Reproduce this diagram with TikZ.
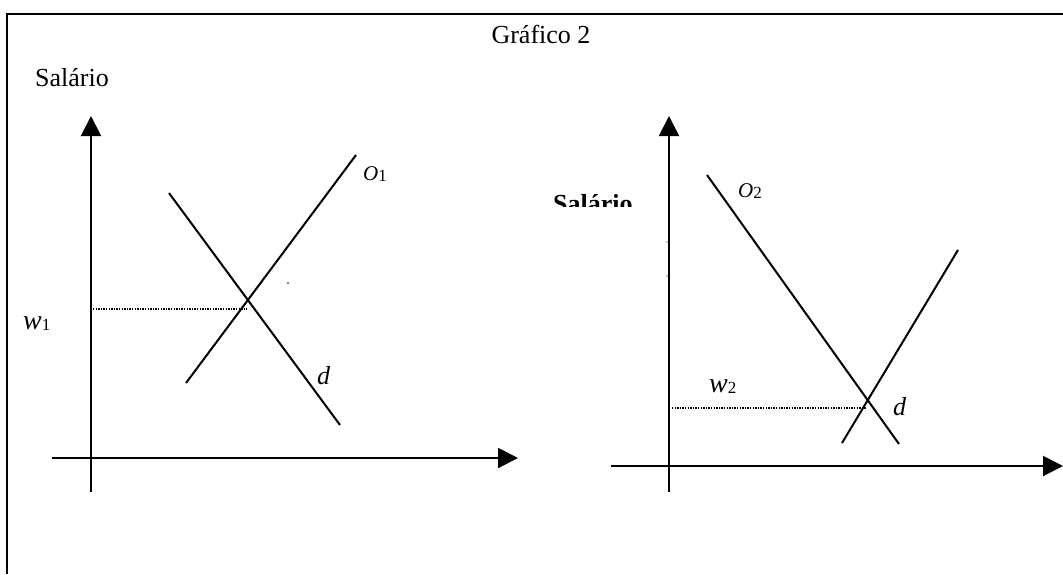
\documentclass[tikz,border=0pt]{standalone}
\usepackage{fontspec}
\setmainfont{Liberation Serif}
\usetikzlibrary{arrows.meta}
\newcommand{\bigtxt}{\fontsize{26}{30}\selectfont}
\newcommand{\vsym}[2]{{\fontsize{28}{30}\selectfont\textit{#1}}\raisebox{-0.12em}{\fontsize{17}{20}\selectfont #2}}
\newcommand{\osym}[2]{{\fontsize{21}{22}\selectfont\textit{#1}}\raisebox{-0.1em}{\fontsize{17}{20}\selectfont #2}}
\tikzset{
  axis/.style={line width=2pt,-{Triangle[length=20pt,width=20pt]}},
  curve/.style={line width=2pt},
  guide/.style={line width=1.3pt,dash pattern=on 1.3pt off 1.3pt},
  lbl/.style={inner sep=0pt,anchor=base west},
  frame/.style={line width=2.2pt}
}
\begin{document}
\begin{tikzpicture}[x=1pt,y=-1pt]
\useasboundingbox (0,0) rectangle (1063,574);
% frame
\coordinate (fr) at (1063,14);
\coordinate (fc) at (7,14);
\coordinate (fb) at (7,574);
\draw[frame] (fr) -- (fc) -- (fb);
\node[inner sep=0pt,anchor=base] (title) at (541,43) {\bigtxt Gráfico 2};
\node[lbl] (sal1) at (35,86) {\bigtxt Salário};

% ---------- left chart ----------
\coordinate (ly0) at (91,492);
\coordinate (ly1) at (91,116);
\coordinate (lx0) at (52,458);
\coordinate (lx1) at (518,458);
\draw[axis] (ly0) -- (ly1);
\draw[axis] (lx0) -- (lx1);
\coordinate (s1a) at (186,383);
\coordinate (s1b) at (356,155);
\coordinate (d1a) at (169,193);
\coordinate (d1b) at (340,425);
\draw[curve] (s1a) -- (s1b);
\draw[curve] (d1a) -- (d1b);
\coordinate (g1a) at (93,309);
\coordinate (g1b) at (247,309);
\draw[guide] (g1a) -- (g1b);
\node[lbl] (w1) at (23,329) {\vsym{w}{1}};
\node[lbl] (dl1) at (317,384) {\fontsize{26}{28}\selectfont\textit{d}};
\node[lbl] (o1) at (363,180) {\osym{O}{1}};
\fill (288,283) circle (0.9pt);

% ---------- right chart ----------
\coordinate (ry0) at (669,492);
\coordinate (ry1) at (669,116);
\coordinate (rx0) at (611,466);
\coordinate (rx1) at (1063,466);
\draw[axis] (ry0) -- (ry1);
\draw[axis] (rx0) -- (rx1);
\coordinate (o2a) at (707,175);
\coordinate (o2b) at (899,444);
\coordinate (s2a) at (842,443);
\coordinate (s2b) at (958,250);
\draw[curve] (o2a) -- (o2b);
\draw[curve] (s2a) -- (s2b);
\coordinate (g2a) at (672,408);
\coordinate (g2b) at (866,408);
\draw[guide] (g2a) -- (g2b);
\node[lbl] (w2) at (709,392) {\vsym{w}{2}};
\node[lbl] (dl2) at (893,415) {\fontsize{26}{28}\selectfont\textit{d}};
\node[lbl] (o2) at (738,197) {\osym{O}{2}};
\fill (667,242) circle (0.7pt);
\fill (667,276) circle (0.7pt);
\begin{scope}
  \clip (540,150) rectangle (650,206);
  \node[lbl] (sal2) at (553,212) {\bigtxt\bfseries Salário};
\end{scope}
\end{tikzpicture}
\end{document}
